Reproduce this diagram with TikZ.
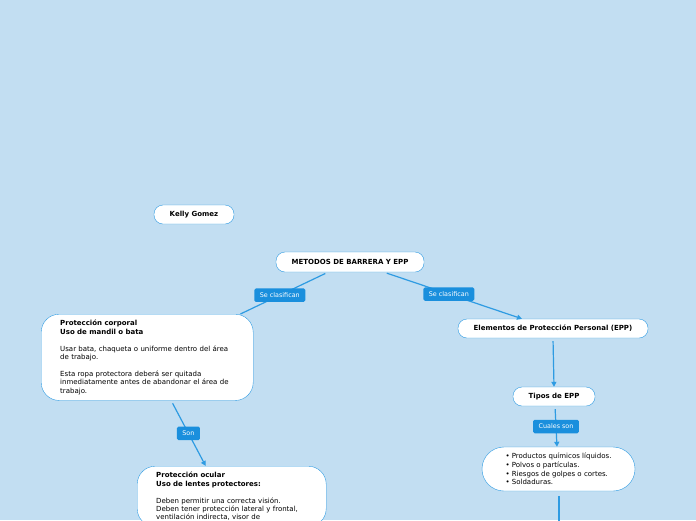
\documentclass[tikz,border=0pt]{standalone}
\usepackage{fontspec}
\setmainfont{DejaVu Sans}
\usetikzlibrary{arrows.meta}
\definecolor{mapbg}{HTML}{C2DEF2}
\definecolor{mapline}{HTML}{2E9BE2}
\definecolor{maptag}{HTML}{1A8FDD}
\tikzset{
  topic/.style={draw=mapline, fill=white, rounded corners=9pt, minimum height=19pt, inner sep=0pt, font=\fontsize{7}{8.4}\selectfont\bfseries},
  note/.style={draw=mapline, fill=white, rounded corners=18pt, anchor=north west, align=left, inner xsep=19pt, inner ysep=6pt, font=\fontsize{7}{8.4}\selectfont},
  tag/.style={fill=maptag, text=white, rounded corners=1.5pt, minimum height=13.5pt, inner xsep=5.5pt, inner ysep=0pt, font=\fontsize{6.4}{7}\selectfont},
  link/.style={mapline, line width=1.2pt, shorten <=3pt},
  linkarrow/.style={link, -{Triangle[length=5pt,width=5pt]}}
}
\begin{document}
\begin{tikzpicture}[x=1pt, y=-1pt]
  \clip (0,0) rectangle (696,520);
  \fill[mapbg] (0,0) rectangle (696,520);

  \node[topic, minimum width=80pt] (kelly) at (194,214.5) {Kelly Gomez};
  \node[topic, minimum width=148pt, minimum height=20pt] (metodos) at (350,262) {METODOS DE BARRERA Y EPP};
  \node[note, text width=174pt] (corporal) at (41,314) {\textbf{Protección corporal}\\
    \textbf{Uso de mandil o bata}\\[8.4pt]
    Usar bata, chaqueta o uniforme dentro del área\\
    de trabajo.\\[8.4pt]
    Esta ropa protectora deberá ser quitada\\
    inmediatamente antes de abandonar el área de\\
    trabajo.};
  \node[topic, minimum width=190pt] (epp) at (553,328.5) {Elementos de Protección Personal (EPP)};
  \node[topic, minimum width=82pt] (tipos) at (554,396.5) {Tipos de EPP};
  \node[draw=mapline, fill=white, rounded corners=22pt, minimum width=153pt, minimum height=44pt, align=left, font=\fontsize{7}{8.7}\selectfont] (lista) at (558.5,469) {\textbullet{} Productos químicos líquidos.\\
    \textbullet{} Polvos o partículas.\\
    \textbullet{} Riesgos de golpes o cortes.\\
    \textbullet{} Soldaduras.};
  \node[note, text width=151pt] (ocular) at (137,466) {\textbf{Protección ocular}\\
    \textbf{Uso de lentes protectores:}\\[8.4pt]
    Deben permitir una correcta visión.\\
    Deben tener protección lateral y frontal,\\
    ventilación indirecta, visor de};
  \coordinate (salida) at (559,521);

  % conectores
  \draw[link] ([xshift=-22pt]metodos.south) -- node[tag, pos=0.55]{Se clasifican} ([xshift=-13pt]corporal.north east);
  \draw[linkarrow] ([xshift=34pt]metodos.south) -- node[tag, pos=0.47]{Se clasifican} ([xshift=-31pt]epp.north);
  \draw[linkarrow] (epp.south) -- (tipos.north);
  \draw[linkarrow] ([xshift=1pt]tipos.south) -- node[tag]{Cuales son} ([xshift=-1.5pt]lista.north);
  \draw[linkarrow] ([xshift=24pt]corporal.south) -- node[tag]{Son} ([xshift=-26pt]ocular.north);
  \draw[link, shorten <=5pt] ([xshift=0.5pt]lista.south) -- (salida);
\end{tikzpicture}
\end{document}
